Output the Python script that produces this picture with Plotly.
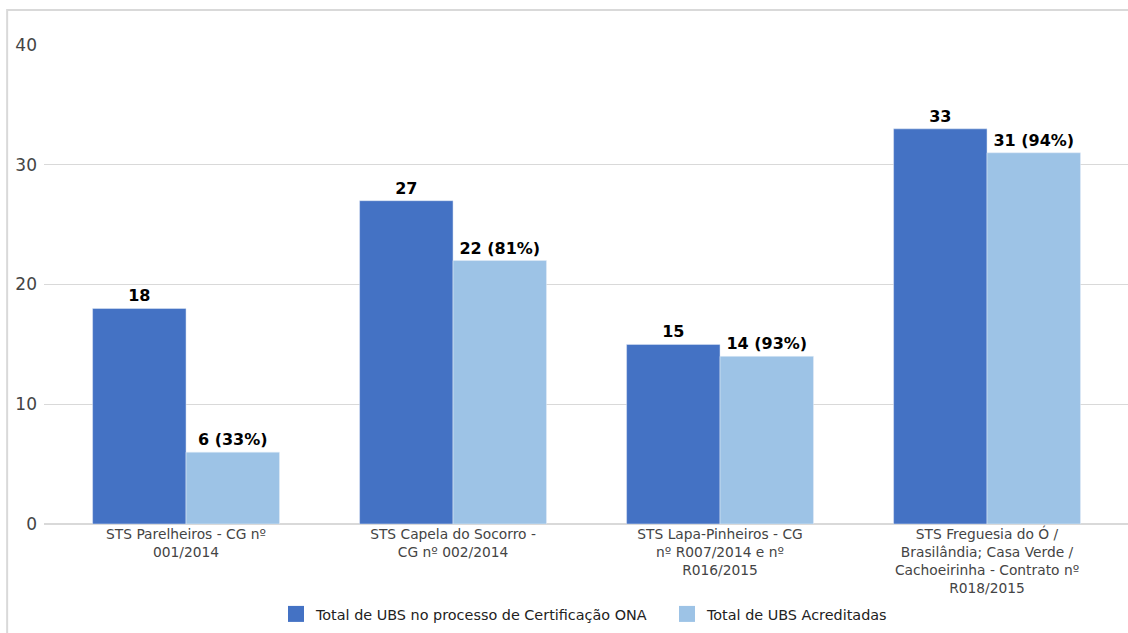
import plotly.graph_objects as go

categories = [
    "STS Parelheiros - CG nº<br>001/2014",
    "STS Capela do Socorro -<br>CG nº 002/2014",
    "STS Lapa-Pinheiros - CG<br>nº R007/2014 e nº<br>R016/2015",
    "STS Freguesia do Ó /<br>Brasilândia; Casa Verde /<br>Cachoeirinha - Contrato nº<br>R018/2015",
]
series_names = ["Total de UBS no processo de Certificação ONA", "Total de UBS Acreditadas"]
series_colors = ["#4472C4", "#9DC3E6"]
total_ona = [18, 27, 15, 33]
acreditadas = [6, 22, 14, 31]
acreditadas_pct = [33, 81, 93, 94]
y_ticks = [0, 10, 20, 30, 40]

x_idx = list(range(len(categories)))
labels2 = [f"{v} ({p}%)" for v, p in zip(acreditadas, acreditadas_pct)]
label_font = dict(family="DejaVu Sans", size=16, color="#000000", weight="bold")

fig = go.Figure()
fig.add_trace(go.Bar(
    x=x_idx, y=total_ona, name=series_names[0], marker_color=series_colors[0],
    text=[str(v) for v in total_ona], textposition="outside",
    textfont=label_font, cliponaxis=False, showlegend=False,
))
fig.add_trace(go.Bar(
    x=x_idx, y=acreditadas, name=series_names[1], marker_color=series_colors[1],
    text=labels2, textposition="outside",
    textfont=label_font, cliponaxis=False, showlegend=False,
))
# legend entries with larger square swatches
for name, color in zip(series_names, series_colors):
    fig.add_trace(go.Scatter(
        x=[None], y=[None], mode="markers", name=name,
        marker=dict(symbol="square", size=16, color=color),
    ))

fig.update_layout(
    width=1128, height=633,
    margin=dict(l=44, r=0, t=45, b=109),
    paper_bgcolor="white", plot_bgcolor="white",
    barmode="group", bargap=0.3, bargroupgap=0,
    font=dict(family="DejaVu Sans", color="#444444"),
    showlegend=True,
    legend=dict(orientation="h", x=0.214, xanchor="left", y=-0.188, yanchor="middle",
                font=dict(size=14.4, color="#222222"), itemsizing="trace",
                entrywidth=346),
    xaxis=dict(tickmode="array", tickvals=x_idx, ticktext=categories,
               range=[-0.532, 3.528], showgrid=False, zeroline=False,
               showline=False, ticks="", tickfont=dict(size=13.8, color="#444444")),
    yaxis=dict(range=[0, 40], tickvals=y_ticks, showgrid=True, gridcolor="#d9d9d9",
               gridwidth=1, zeroline=True, zerolinecolor="#d9d9d9", showline=False,
               ticks="", tickfont=dict(size=17, color="#444444"), ticklabelstandoff=6),
    shapes=[dict(type="rect", xref="paper", yref="paper",
                 x0=-0.034, x1=1.02, y0=-0.4, y1=1.073,
                 line=dict(color="#d9d9d9", width=2), fillcolor="rgba(0,0,0,0)", layer="below")],
)

fig.write_html("out.html")
